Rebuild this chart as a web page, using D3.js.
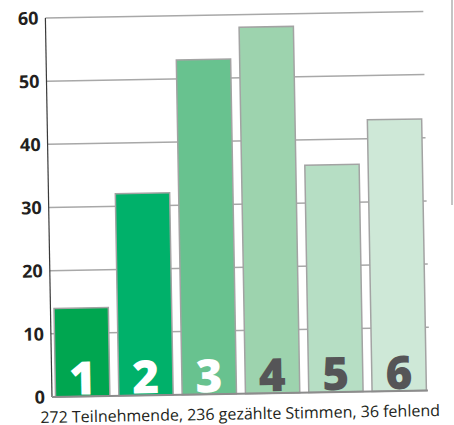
<!DOCTYPE html>
<html>
<head>
<meta charset="utf-8">
<script src="https://cdn.jsdelivr.net/npm/d3@7"></script>
<style>
  html, body { margin: 0; padding: 0; background: #fff; }
  svg { display: block; }
</style>
</head>
<body>
<div id="chart"></div>
<script>
// Vote counts per answer option
const categories = ["1", "2", "3", "4", "5", "6"];
const votes = [14, 32, 53, 58, 36, 43];
const yTicks = [0, 10, 20, 30, 40, 50, 60];
const barColors = ["#00a650", "#00b16a", "#68c28f", "#9dd3ae", "#b6dec4", "#cee8d7"];
const numberColors = ["#ffffff", "#ffffff", "#ffffff", "#555557", "#555557", "#555557"];
const caption = "272 Teilnehmende, 236 gezählte Stimmen, 36 fehlend";

const W = 454, H = 425;
const plotW = 378, plotH = 379;

const svg = d3.select("#chart").append("svg")
  .attr("width", W).attr("height", H);

// faint page edge on the right
svg.append("line")
  .attr("x1", 452).attr("x2", 452).attr("y1", 0).attr("y2", 205)
  .attr("stroke", "#c4c4c4").attr("stroke-width", 2);

// the whole chart sits slightly tilted
const g = svg.append("g")
  .attr("transform", "translate(52,397) rotate(-1)");

const x = d3.scaleBand()
  .domain(categories)
  .range([0, plotW])
  .paddingInner(0.142)
  .paddingOuter(0.056);

const y = d3.scaleLinear()
  .domain([0, 60])
  .range([0, -plotH]);

// horizontal gridlines
g.append("g").selectAll("line")
  .data(yTicks.filter(d => d > 0))
  .join("line")
  .attr("x1", 0).attr("x2", plotW)
  .attr("y1", d => y(d)).attr("y2", d => y(d))
  .attr("stroke", "#a8a8a8").attr("stroke-width", 1.5);

// tick labels
g.append("g").selectAll("text")
  .data(yTicks)
  .join("text")
  .attr("x", -7)
  .attr("y", d => y(d))
  .attr("dy", "0.36em")
  .attr("text-anchor", "end")
  .attr("font-family", "'Open Sans', sans-serif")
  .attr("font-weight", 700)
  .attr("font-size", 18)
  .attr("fill", "#231f20")
  .text(d => d);

// bars
g.append("g").selectAll("rect")
  .data(votes)
  .join("rect")
  .attr("x", (d, i) => x(categories[i]))
  .attr("width", x.bandwidth())
  .attr("y", d => y(d))
  .attr("height", d => y(0) - y(d))
  .attr("fill", (d, i) => barColors[i])
  .attr("stroke", "#a3a3a3")
  .attr("stroke-width", 1.5);

// big option numbers inside the bars
g.append("g").selectAll("text")
  .data(categories)
  .join("text")
  .attr("x", d => x(d) + x.bandwidth() / 2)
  .attr("y", -2)
  .attr("text-anchor", "middle")
  .attr("font-family", "'Open Sans', sans-serif")
  .attr("font-weight", 800)
  .attr("font-size", 46)
  .attr("fill", (d, i) => numberColors[i])
  .text(d => d);

// y axis line
g.append("line")
  .attr("x1", 0).attr("x2", 0).attr("y1", 0).attr("y2", -plotH)
  .attr("stroke", "#3a3a3a").attr("stroke-width", 1.2);

// baseline
g.append("line")
  .attr("x1", 0).attr("x2", plotW - 2).attr("y1", 0).attr("y2", 0)
  .attr("stroke", "#8c8c8c").attr("stroke-width", 2);

// caption
g.append("text")
  .attr("x", -12)
  .attr("y", 20)
  .attr("dy", "0.36em")
  .attr("font-family", "'Open Sans', sans-serif")
  .attr("font-size", 16)
  .attr("fill", "#231f20")
  .text(caption);
</script>
</body>
</html>
